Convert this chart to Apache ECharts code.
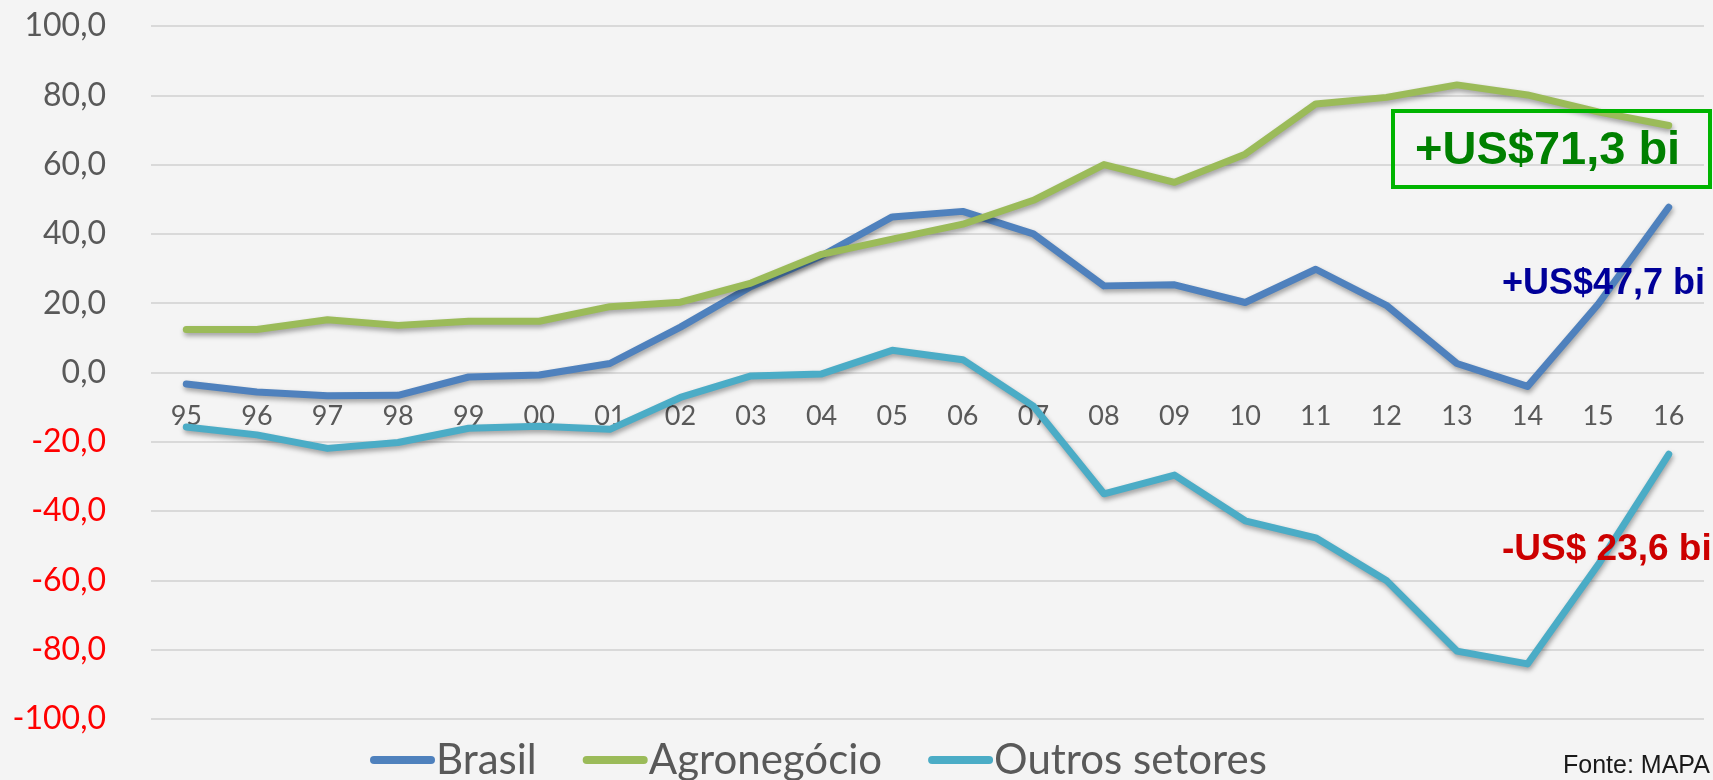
<!DOCTYPE html>
<html>
<head>
<meta charset="utf-8">
<script src="https://cdn.jsdelivr.net/npm/echarts@6/dist/echarts.min.js"></script>
<style>
  html, body { margin: 0; padding: 0; background: #f4f4f4; }
  #balanca { width: 1713px; height: 780px; }
</style>
</head>
<body>
<div id="balanca"></div>
<script>
// anos (95 = 1995 ... 16 = 2016)
const anos = ['95', '96', '97', '98', '99', '00', '01', '02', '03', '04', '05',
  '06', '07', '08', '09', '10', '11', '12', '13', '14', '15', '16']
// saldo da balança comercial, US$ bilhões
const brasil = [-3.3, -5.6, -6.7, -6.6, -1.3, -0.7, 2.6, 13.1, 24.8, 33.7, 44.9,
  46.5, 40.0, 25.0, 25.3, 20.2, 29.8, 19.4, 2.6, -4.0, 19.7, 47.7]
const agronegocio = [12.4, 12.4, 15.2, 13.6, 14.8, 14.8, 19.0, 20.3, 25.8, 34.1, 38.5,
  42.8, 49.7, 60.0, 54.9, 63.0, 77.5, 79.4, 83.0, 80.1, 75.2, 71.3]
const outrosSetores = [-15.7, -18.0, -21.9, -20.2, -16.1, -15.5, -16.4, -7.2, -1.0, -0.4, 6.4,
  3.7, -9.7, -35.0, -29.6, -42.8, -47.7, -60.0, -80.4, -84.1, -55.5, -23.6]
const ticksY = { min: -100, max: 100, interval: 20 }

const chart = echarts.init(document.getElementById('balanca'))

const gridTop = 26
const gridBottom = 61
const alturaGrid = 780 - gridTop - gridBottom
// eixo das categorias sobe até a linha do zero (rótulos junto)
const offsetZero = -alturaGrid * (0 - ticksY.min) / (ticksY.max - ticksY.min)

const sombra = {
  shadowColor: 'rgba(0,0,0,0.35)',
  shadowBlur: 5,
  shadowOffsetX: 1,
  shadowOffsetY: 3
}

function serie(nome, dados, cor) {
  return {
    name: nome,
    type: 'line',
    data: dados,
    showSymbol: false,
    symbol: 'none',
    color: cor,
    lineStyle: Object.assign({ width: 7, color: cor, cap: 'round', join: 'round' }, sombra),
    z: 3
  }
}

const option = {
  backgroundColor: '#f4f4f4',
  animation: false,
  grid: { left: 151, right: 9, top: gridTop, bottom: gridBottom, containLabel: false },
  legend: {
    left: 365,
    top: 734,
    itemWidth: 57,
    itemHeight: 8,
    itemGap: 46,
    lineStyle: { width: 8, cap: 'round', shadowBlur: 0 },
    textStyle: { fontFamily: 'Lato', fontSize: 42, color: '#595959' },
    data: ['Brasil', 'Agronegócio', 'Outros setores']
  },
  xAxis: {
    type: 'category',
    data: anos,
    boundaryGap: true,
    position: 'bottom',
    offset: offsetZero,
    axisLine: { show: false, onZero: false },
    axisTick: { show: false },
    axisLabel: { fontFamily: 'Lato', fontSize: 27, color: '#595959', margin: 30, interval: 0 },
    splitLine: { show: false }
  },
  yAxis: {
    type: 'value',
    min: ticksY.min,
    max: ticksY.max,
    interval: ticksY.interval,
    axisLine: { show: false },
    axisTick: { show: false },
    axisLabel: {
      fontFamily: 'Lato',
      fontSize: 32,
      margin: 45,
      formatter: v => v.toFixed(1).replace('.', ','),
      color: v => (Number(v) < 0 ? '#ff0000' : '#595959')
    },
    splitLine: { lineStyle: { color: '#d9d9d9', width: 2 } }
  },
  series: [
    serie('Brasil', brasil, '#4f81bd'),
    serie('Agronegócio', agronegocio, '#9bbb59'),
    serie('Outros setores', outrosSetores, '#4bacc6')
  ],
  graphic: [
    {
      type: 'rect',
      z: 10,
      shape: { x: 1393, y: 111, width: 317, height: 76 },
      style: { fill: 'transparent', stroke: '#00b400', lineWidth: 4 }
    },
    {
      type: 'text',
      z: 10,
      x: 1415,
      y: 151,
      style: {
        text: '+US$71,3 bi',
        font: 'bold 47px "Liberation Sans", Arial, sans-serif',
        fill: '#008000',
        textAlign: 'left',
        textVerticalAlign: 'middle'
      }
    },
    {
      type: 'text',
      z: 10,
      x: 1502,
      y: 284,
      style: {
        text: '+US$47,7 bi',
        font: 'bold 36px "Liberation Sans", Arial, sans-serif',
        fill: '#000099',
        textAlign: 'left',
        textVerticalAlign: 'middle'
      }
    },
    {
      type: 'text',
      z: 10,
      x: 1502,
      y: 550,
      style: {
        text: '-US$ 23,6 bi',
        font: 'bold 37px "Liberation Sans", Arial, sans-serif',
        fill: '#cc0000',
        textAlign: 'left',
        textVerticalAlign: 'middle'
      }
    },
    {
      type: 'text',
      z: 10,
      x: 1563,
      y: 766,
      style: {
        text: 'Fonte: MAPA',
        font: '25px "Liberation Sans", Arial, sans-serif',
        fill: '#1a1a1a',
        textAlign: 'left',
        textVerticalAlign: 'middle'
      }
    }
  ]
}

chart.setOption(option)
</script>
</body>
</html>
